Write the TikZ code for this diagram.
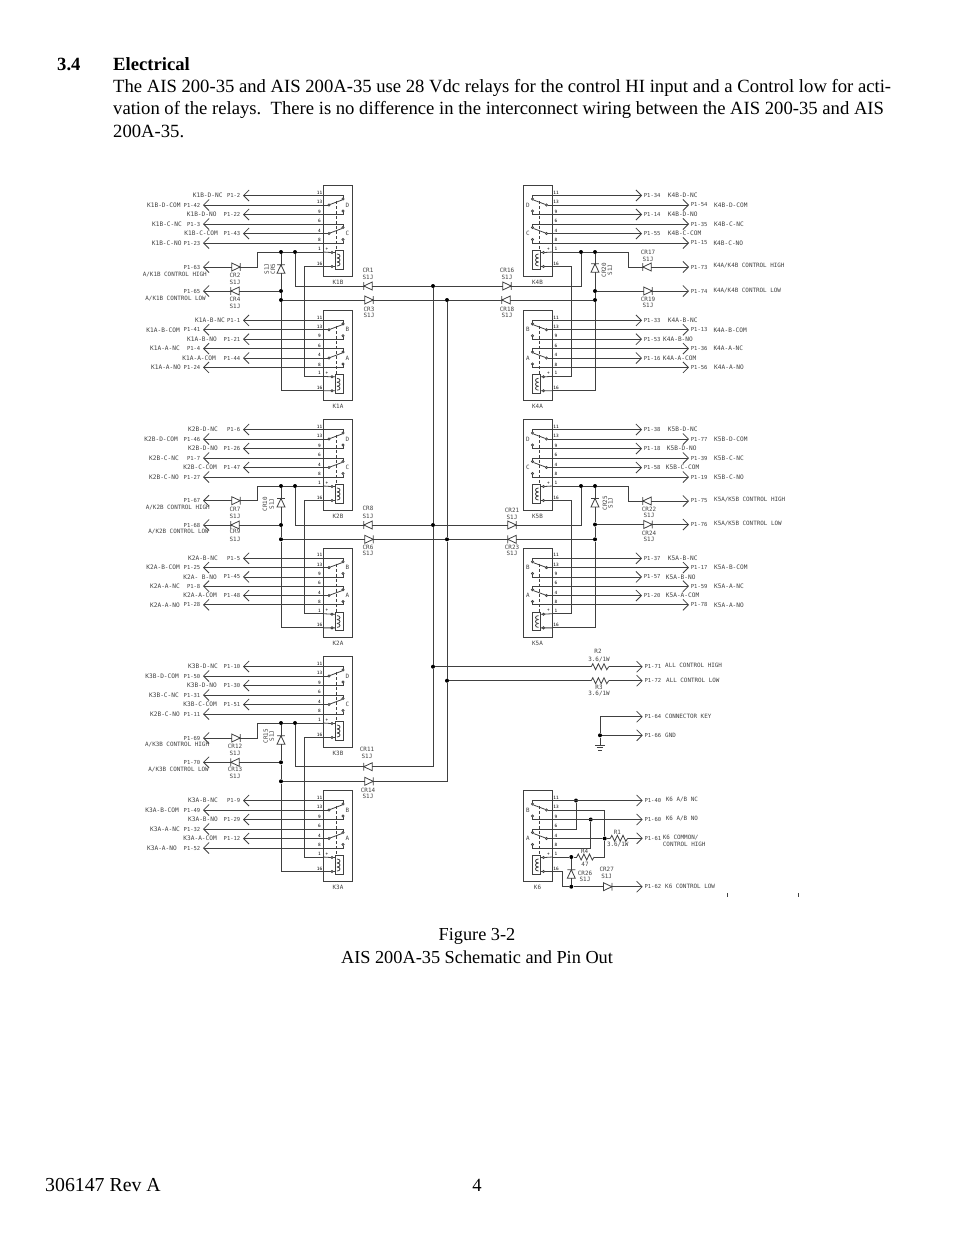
\documentclass[tikz,border=0pt]{standalone}
\usepackage{fontspec}
\setmainfont{Liberation Serif}
\setmonofont{DejaVu Sans Mono}
\usetikzlibrary{arrows.meta}
\definecolor{ink}{gray}{0.25}

\tikzset{
  wire/.style={draw=ink,line width=.8pt},
  sigline/.style={wire,-{Straight Barb[length=5.5pt,width=11pt]}},
  dot/.style={circle,fill=black,inner sep=0pt,minimum size=4pt},
  sigtext/.style={font=\ttfamily\fontsize{5.9}{6}\selectfont,text=ink,inner sep=0pt},
  nametext/.style={font=\ttfamily\fontsize{6.15}{6}\selectfont,text=ink,inner sep=0pt},
  pnumtext/.style={font=\ttfamily\fontsize{5.5}{6}\selectfont,text=ink,inner sep=0pt},
  pintext/.style={font=\ttfamily\fontsize{4.4}{5}\selectfont,text=black,inner sep=0pt},
  diodebox/.style={inner sep=0pt,minimum width=8pt,minimum height=7.5pt},
  resbox/.style={inner sep=0pt,minimum width=17pt,minimum height=6pt},
  bodytext/.style={font=\fontsize{18.65}{20}\selectfont,inner sep=0pt,anchor=base west}
}

% one relay: name, top, centre x, side, two pole letters, height scale
\newcommand{\relay}[7]{%
\scope[shift={(#3,#2)},xscale=#4,yscale=#7]
\draw[wire] (-15,0) rectangle (14.5,91);
\foreach \pin/\off in {11/10.5,13/20,9/29.5,6/39,4/48.5,8/58,1/67,16/81.5}{
  \coordinate (#1-\pin) at (-15,\off);
  \node[pintext] (#1-\pin-no) at (-18.5,\off-3) {\pin};
}
\foreach \a/\b/\c/\cname in {10.5/20/29.5/#5,39/48.5/58/#6}{
  \draw[wire] (-15,\a) -- (5,\a) -- (5,\a+2.5) (-15,\b) -- (-10,\b) (-15,\c) -- (5,\c) -- (5,\c-2.5);
  \draw[wire] (-8,\b-.5) -- (4,\a+4.5);
  \draw[wire,fill=white] (5,\a+3.5) circle (1.1) (-9,\b) circle (1.1) (5,\c-3.5) circle (1.1);
  \node[sigtext] (#1-\cname) at (9.5,\b) {\cname};
}
\draw[wire,dash pattern=on 3pt off 2pt] (-2,16) -- (-2,65.5);
% coil
\draw[wire] (-15,67) -- (-7,67.5) (-5,67.5) -- (-3,67.5) (-15,81.5) -- (-7,81.5) (-5,81.5) -- (-3,81.5);
\draw[wire,fill=white] (-6,67.5) circle (1.1) (-6,81.5) circle (1.1);
\draw[wire] (-3,65.5) rectangle (5,84);
\foreach \k in {69,73,77}
  \draw[wire] (-1,\k) .. controls (3,\k) and (3,\k+4) .. (-1,\k+4);
\node[pintext] (#1-plus) at (-11,64) {+};
\node[sigtext] (#1-name) at (0,97) {#1};
\endscope
}

\newcommand{\sigleft}[3]{%
\coordinate (#1-tip) at (#2,0 |- #1);
\draw[sigline] (#1) -- (#1-tip);
\node[pnumtext,anchor=east] (#1-pnum) at ([xshift=-2.5pt]#1-tip) {#3};
}
\newcommand{\sigright}[3]{%
\coordinate (#1-tip) at (#2,0 |- #1);
\draw[sigline] (#1) -- (#1-tip);
\node[pnumtext,anchor=west] (#1-pnum) at ([xshift=1.7pt]#1-tip) {#3};
}
\newcommand{\leftrows}[2]{%
\foreach \pin/\tipx/\pnum/\lx/\lab in {#2}{
  \sigleft{#1-\pin}{\tipx}{\pnum}
  \node[nametext,anchor=east] (#1-\pin-lab) at (\lx,0 |- #1-\pin) {\lab};
}}
\newcommand{\rightrows}[2]{%
\foreach \pin/\tipx/\pnum/\lx/\lab in {#2}{
  \sigright{#1-\pin}{\tipx}{\pnum}
  \node[nametext,anchor=west] (#1-\pin-lab) at (\lx,0 |- #1-\pin) {\lab};
}}

\newcommand{\crdiode}[4]{%
\node[diodebox,rotate=#4] (#1) at (#2,#3) {};
\draw[wire] (#1.south west) -- (#1.east) -- (#1.north west) -- cycle (#1.south east) -- (#1.north east);
}
\newcommand{\crlabel}[4]{%
\node[sigtext] (#1) at (#2,#3) {#1};
\node[sigtext] (#1-part) at (#2,#4) {S1J};
}
\newcommand{\crside}[4]{%
\node[sigtext,rotate=90] (#1) at (#2,#4) {#1};
\node[sigtext,rotate=90] (#1-part) at (#3,#4) {S1J};
}
\newcommand{\resistor}[3]{%
\node[resbox] (#1) at (#2,#3) {};
\draw[wire] (#1.west) -- ++(1.5,-3) -- ++(2.8,6) -- ++(2.8,-6) -- ++(2.8,6) -- ++(2.8,-6) -- ++(2.8,6) -- (#1.east);
}
% wiring round a pair of relays: group, upper, lower, x of rail tap, x of corner, x of crossover
\newcommand{\tiegroup}[6]{%
\node[dot] (#1j1) at (#1cl |- #2-1) {};
\node[dot] (#1j2) at (#4,0 |- #2-1) {};
\node[dot] (#1j3) at (#1cl |- #1lo) {};
\node[dot] (#1j4) at (#1cl |- #1dn) {};
\coordinate (#1c) at (#5,0 |- #2-1);
\coordinate (#1x) at (#6,0 |- #2-16);
\draw[wire] (#2-1) -- (#1j2) -- (#1j1) -- (#1c) |- (#1hi);
\draw[wire] (#1j1) -- (#1cl) -- (#1j3) -- (#1j4) |- (#3-16);
\draw[wire] (#1lo) -- (#1j3) (#1dn) -- (#1j4);
\draw[wire] (#1j2) |- (#1up);
\draw[wire] (#2-16) -- (#1x) |- (#3-1);
}

\begin{document}
\begin{tikzpicture}[x=1pt,y=-1pt]
\useasboundingbox (0,0) rectangle (954,1235);

% page text
\node[bodytext] (sec) at (57,70) {\bfseries 3.4};
\node[bodytext] (sectitle) at (113,70) {\bfseries Electrical};
\node[bodytext] (line1) at (113,92) {The AIS 200-35 and AIS 200A-35 use 28 Vdc relays for the control HI input and a Control low for acti-};
\node[bodytext] (line2) at (113,114) {vation of the relays.\ \ There is no difference in the interconnect wiring between the AIS 200-35 and AIS};
\node[bodytext] (line3) at (113,137) {200A-35.};
\node[bodytext,anchor=base,font=\fontsize{18.3}{20}\selectfont] (fig1) at (477,940) {Figure 3-2};
\node[bodytext,anchor=base,font=\fontsize{18.3}{20}\selectfont] (fig2) at (477,963) {AIS 200A-35 Schematic and Pin Out};
\node[bodytext,font=\fontsize{19.8}{20}\selectfont] (docno) at (45,1191) {306147 Rev A};
\node[bodytext,anchor=base] (pageno) at (477,1191) {4};

% relays
\relay{K1B}{185}{338}{1}{D}{C}{1}
\relay{K1A}{310}{338}{1}{B}{A}{.99}
\relay{K2B}{419}{338}{1}{D}{C}{1}
\relay{K2A}{548}{338}{1}{B}{A}{.98}
\relay{K3B}{656}{338}{1}{D}{C}{1}
\relay{K3A}{790}{338}{1}{B}{A}{1}
\relay{K4B}{185}{537.5}{-1}{D}{C}{1}
\relay{K4A}{310}{537.5}{-1}{B}{A}{.99}
\relay{K5B}{419}{537.5}{-1}{D}{C}{1}
\relay{K5A}{548}{537.5}{-1}{B}{A}{.98}
\relay{K6}{790}{537.5}{-1}{B}{A}{1}

% left hand pins
\leftrows{K1B}{11/243/P1-2/222.7/K1B-D-NC,13/203/P1-42/180.7/K1B-D-COM,9/243/P1-22/216.7/K1B-D-NO,
  6/203/P1-3/182/K1B-C-NC,4/243/P1-43/218/K1B-C-COM,8/203/P1-23/181.7/K1B-C-NO}
\leftrows{K1A}{11/243/P1-1/225/K1A-B-NC,13/203/P1-41/180/K1A-B-COM,9/243/P1-21/217/K1A-B-NO,
  6/203/P1-4/180/K1A-A-NC,4/243/P1-44/216/K1A-A-COM,8/203/P1-24/181/K1A-A-NO}
\leftrows{K2B}{11/243/P1-6/218/K2B-D-NC,13/203/P1-46/178/K2B-D-COM,9/243/P1-26/218/K2B-D-NO,
  6/203/P1-7/179/K2B-C-NC,4/243/P1-47/217/K2B-C-COM,8/203/P1-27/179/K2B-C-NO}
\leftrows{K2A}{11/243/P1-5/218/K2A-B-NC,13/203/P1-25/180/K2A-B-COM,9/243/P1-45/217/K2A- B-NO,
  6/203/P1-8/180/K2A-A-NC,4/243/P1-48/217/K2A-A-COM,8/203/P1-28/180/K2A-A-NO}
\leftrows{K3B}{11/243/P1-10/218/K3B-D-NC,13/203/P1-50/179/K3B-D-COM,9/243/P1-30/217/K3B-D-NO,
  6/203/P1-31/179/K3B-C-NC,4/243/P1-51/217/K3B-C-COM,8/203/P1-11/180/K2B-C-NO}
\leftrows{K3A}{11/243/P1-9/218/K3A-B-NC,13/203/P1-49/179/K3A-B-COM,9/243/P1-29/218/K3A-B-NO,
  6/203/P1-32/180/K3A-A-NC,4/243/P1-12/217/K3A-A-COM,8/203/P1-52/177/K3A-A-NO}

% right hand pins
\rightrows{K4B}{11/642/P1-34/667.7/K4B-D-NC,13/689/P1-54/714/K4B-D-COM,9/642/P1-14/667.7/K4B-D-NO,
  6/689/P1-35/714/K4B-C-NC,4/642/P1-55/667.7/K4B-C-COM,8/689/P1-15/713.3/K4B-C-NO}
\rightrows{K4A}{11/642/P1-33/667.7/K4A-B-NC,13/689/P1-13/713.3/K4A-B-COM,9/642/P1-53/663/K4A-B-NO,
  6/689/P1-36/713.3/K4A-A-NC,4/642/P1-16/662.7/K4A-A-COM,8/689/P1-56/714/K4A-A-NO}
\rightrows{K5B}{11/642/P1-38/667.7/K5B-D-NC,13/689/P1-77/714/K5B-D-COM,9/642/P1-18/666.7/K5B-D-NO,
  6/689/P1-39/714/K5B-C-NC,4/642/P1-58/665.7/K5B-C-COM,8/689/P1-19/714/K5B-C-NO}
\rightrows{K5A}{11/642/P1-37/667.7/K5A-B-NC,13/689/P1-17/714/K5A-B-COM,9/642/P1-57/665.7/K5A-B-NO,
  6/689/P1-59/714/K5A-A-NC,4/642/P1-20/665.7/K5A-A-COM,8/689/P1-78/714/K5A-A-NO}

% diodes
\crdiode{K1hi}{236}{267}{0}   \crlabel{CR2}{235}{275}{282}
\crdiode{K1lo}{235}{291}{180} \crlabel{CR4}{235}{299}{306}
\crdiode{K1cl}{281}{269}{90}  \crside{CR5}{273}{266.7}{269}
\crdiode{K1up}{368}{286}{180} \crlabel{CR1}{368}{270}{277}
\crdiode{K1dn}{369}{300}{0}   \crlabel{CR3}{369}{309}{315}
\crdiode{K2hi}{236}{500.7}{0} \crlabel{CR7}{235}{509}{516}
\crdiode{K2lo}{235}{525}{180} \crlabel{CR9}{235}{531.7}{539}
\crdiode{K2cl}{281}{502.7}{90} \crside{CR10}{265}{271.7}{504}
\crdiode{K2up}{368}{525}{180} \crlabel{CR8}{368}{508}{516}
\crdiode{K2dn}{369}{539.3}{0} \crlabel{CR6}{368}{547.7}{553}
\crdiode{K3hi}{236}{738}{0}   \crlabel{CR12}{235}{746.7}{753}
\crdiode{K3lo}{235}{762.3}{180} \crlabel{CR13}{235}{769}{776.7}
\crdiode{K3cl}{281}{740}{90}  \crside{CR15}{265.7}{271.7}{736}
\crdiode{K3up}{368}{766.7}{180} \crlabel{CR11}{367}{749}{756.7}
\crdiode{K3dn}{369}{781.3}{0} \crlabel{CR14}{368}{790}{796}
\crdiode{K4hi}{647}{267}{180} \crlabel{CR17}{648}{252}{259}
\crdiode{K4lo}{648}{291}{0}   \crlabel{CR19}{648}{299}{305}
\crdiode{K4cl}{595}{268}{90}  \crside{CR20}{604}{610}{270}
\crdiode{K4up}{507}{286}{0}   \crlabel{CR16}{507}{270}{277}
\crdiode{K4dn}{506}{300}{180} \crlabel{CR18}{507}{309}{315}
\crdiode{K5hi}{647}{501}{180} \crlabel{CR22}{649}{509}{515}
\crdiode{K5lo}{648}{524.5}{0} \crlabel{CR24}{649}{533}{539}
\crdiode{K5cl}{595}{502.7}{90} \crside{CR25}{605}{610.5}{503}
\crdiode{K5up}{512}{525}{0}   \crlabel{CR21}{512}{510}{517}
\crdiode{K5dn}{512}{539.3}{180} \crlabel{CR23}{512}{547.7}{553}

% wiring round the relay pairs
\tiegroup{K1}{K1B}{K1A}{295}{257}{304.3}
\tiegroup{K2}{K2B}{K2A}{295}{257}{304.3}
\tiegroup{K3}{K3B}{K3A}{295}{257}{304.3}
\tiegroup{K4}{K4B}{K4A}{581}{628.7}{571.7}
\tiegroup{K5}{K5B}{K5A}{581}{628.7}{571.7}

% control lines
\sigleft{K1hi}{203}{P1-63}
\sigleft{K1lo}{203}{P1-65}
\sigleft{K2hi}{203}{P1-67}
\sigleft{K2lo}{203}{P1-68}
\sigleft{K3hi}{203}{P1-69}
\sigleft{K3lo}{203}{P1-70}
\node[sigtext,anchor=east] (K1hitxt) at (207,274.7) {A/K1B CONTROL HIGH};
\node[sigtext,anchor=east] (K1lotxt) at (206,298.3) {A/K1B CONTROL LOW};
\node[sigtext,anchor=east] (K2hitxt) at (210,507.7) {A/K2B CONTROL HIGH};
\node[sigtext,anchor=east] (K2lotxt) at (209,531.7) {A/K2B CONTROL LOW};
\node[sigtext,anchor=east] (K3hitxt) at (209.3,745) {A/K3B CONTROL HIGH};
\node[sigtext,anchor=east] (K3lotxt) at (209,770) {A/K3B CONTROL LOW};
\sigright{K4hi}{689}{P1-73}
\sigright{K4lo}{689}{P1-74}
\sigright{K5hi}{689}{P1-75}
\sigright{K5lo}{689}{P1-76}
\node[sigtext,anchor=west] (K4hitxt) at (713.3,265.5) {K4A/K4B CONTROL HIGH};
\node[sigtext,anchor=west] (K4lotxt) at (713.3,290.5) {K4A/K4B CONTROL LOW};
\node[sigtext,anchor=west] (K5hitxt) at (714,499.5) {K5A/K5B CONTROL HIGH};
\node[sigtext,anchor=west] (K5lotxt) at (714,523.5) {K5A/K5B CONTROL LOW};

% centre rails
\resistor{R2}{600}{666.7}
\resistor{R3}{600}{680.7}
\node[dot] (hi1) at (433,0 |- K1up) {};
\node[dot] (hi2) at (433,0 |- K2up) {};
\node[dot] (hi3) at (433,0 |- R2) {};
\node[dot] (lo1) at (447,0 |- K1dn) {};
\node[dot] (lo2) at (447,0 |- K2dn) {};
\node[dot] (lo3) at (447,0 |- R3) {};
\draw[wire] (K1up) -- (hi1) -- (K4up) (K2up) -- (hi2) -- (K5up) (hi3) -- (R2);
\draw[wire] (K1dn) -- (lo1) -- (K4dn) (K2dn) -- (lo2) -- (K5dn) (lo3) -- (R3);
\draw[wire] (hi1) -- (hi2) -- (hi3) |- (K3up);
\draw[wire] (lo1) -- (lo2) -- (lo3) |- (K3dn);
\sigright{R2}{642.7}{P1-71}
\sigright{R3}{642.7}{P1-72}
\node[sigtext,anchor=west] (R2txt) at (665,665.5) {ALL CONTROL HIGH};
\node[sigtext,anchor=west] (R3txt) at (666,680) {ALL CONTROL LOW};
\node[sigtext] (R2a) at (598,651.7) {R2};
\node[sigtext] (R2b) at (599,659.3) {3.6/1W};
\node[sigtext] (R3a) at (599,687.7) {R3};
\node[sigtext] (R3b) at (599,694) {3.6/1W};

% key and ground
\coordinate (KEYc) at (600,716.7);
\node[dot] (GNDj) at (600,735.3) {};
\coordinate (GNDc) at (600,745);
\draw[wire] (KEYc) -- (GNDj) -- (GNDc);
\draw[wire] ([xshift=-5pt]GNDc) -- ([xshift=5pt]GNDc);
\draw[wire] ([shift={(-3.2pt,-2.8pt)}]GNDc) -- ([shift={(3.2pt,-2.8pt)}]GNDc);
\draw[wire] ([shift={(-1.6pt,-5.6pt)}]GNDc) -- ([shift={(1.6pt,-5.6pt)}]GNDc);
\sigright{KEYc}{642.7}{P1-64}
\sigright{GNDj}{642.7}{P1-66}
\node[sigtext,anchor=west] (KEYtxt) at (665,716) {CONNECTOR KEY};
\node[sigtext,anchor=west] (GNDtxt) at (665,735) {GND};

% K6
\resistor{R1}{619}{838.3}
\resistor{R4}{585.5}{857}
\crdiode{CR26d}{571.3}{874}{90}
\crdiode{CR27d}{607.7}{886.7}{0}
\node[dot] (K6j1) at (576,0 |- K6-11) {};
\node[dot] (K6j2) at (590.7,0 |- K6-9) {};
\node[dot] (K6j3) at (604.7,0 |- K6-4) {};
\node[dot] (K6j4) at (CR26d |- K6-1) {};
\node[dot] (K6j5) at (CR26d |- CR27d) {};
\coordinate (K6c) at (K6j3 |- K6-13);
\coordinate (K6b) at (562.3,0 |- K6-16);
\draw[wire] (K6j1) |- (K6-6);
\draw[wire] (K6j2) |- (K6-8);
\draw[wire] (K6-13) -- (K6c) -- (K6j3);
\draw[wire] (K6-4) -- (K6j3) -- (R1);
\draw[wire] (K6-1) -- (K6j4) -- (R4) -| (K6j3);
\draw[wire] (K6j4) -- (CR26d) -- (K6j5);
\draw[wire] (K6-16) -- (K6b) |- (K6j5) -- (CR27d);
\sigright{K6-11}{642.7}{P1-40}
\sigright{K6-9}{642.7}{P1-60}
\sigright{R1}{642.7}{P1-61}
\sigright{CR27d}{642.7}{P1-62}
\node[sigtext,anchor=west] (K6t1) at (665.7,800) {K6 A/B NC};
\node[sigtext,anchor=west] (K6t2) at (665.7,819) {K6 A/B NO};
\node[sigtext,anchor=west] (K6t3) at (662.7,837.7) {K6 COMMON/};
\node[sigtext,anchor=west] (K6t4) at (662.7,844.5) {CONTROL HIGH};
\node[sigtext,anchor=west] (K6t5) at (665,886) {K6 CONTROL LOW};
\node[sigtext] (R1a) at (617.3,832.7) {R1};
\node[sigtext] (R1b) at (617.7,844.3) {3.6/1W};
\node[sigtext] (R4a) at (584.7,851.7) {R4};
\node[sigtext] (R4b) at (585,864) {47};
\crlabel{CR26}{585}{873}{879}
\crlabel{CR27}{606.7}{869}{876}

% stray marks
\draw[ink,line width=.5pt] (727.3,893) -- (727.3,897) (798.3,893) -- (798.3,897);
\end{tikzpicture}
\end{document}
